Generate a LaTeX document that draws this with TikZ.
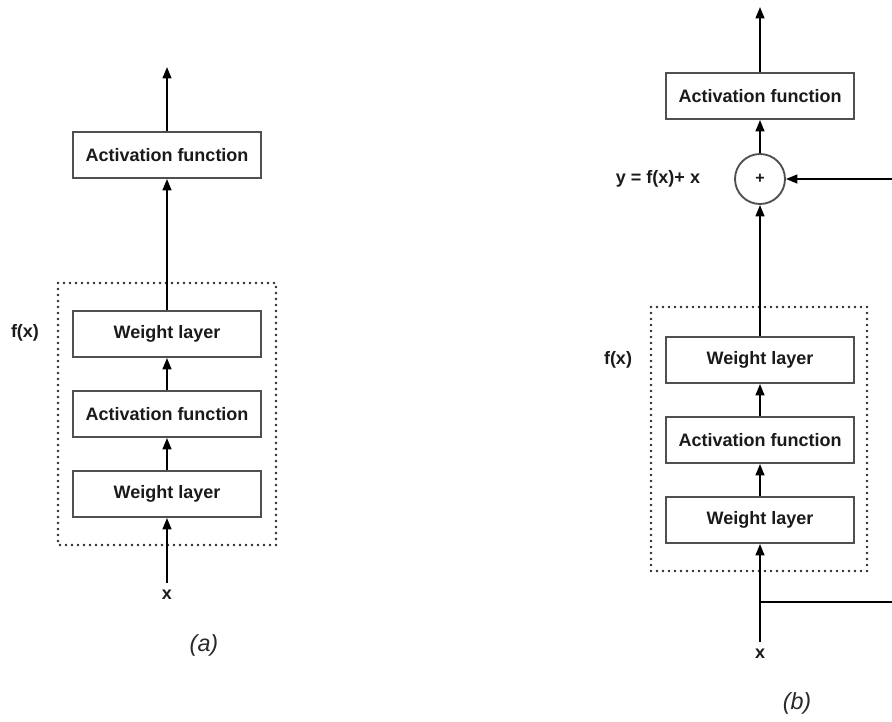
\documentclass[tikz,border=0pt]{standalone}
\usepackage{fontspec}
\setmainfont{Liberation Sans}
\usetikzlibrary{arrows.meta}
\definecolor{ink}{HTML}{1A1A1A}
\definecolor{boxline}{HTML}{505050}
\definecolor{dotline}{HTML}{2A2A2A}
\begin{document}
\begin{tikzpicture}[x=0.75pt,y=-0.75pt,
  every node/.style={text=ink, font=\fontsize{13.5}{16}\selectfont\bfseries},
  layer/.style={draw=boxline, line width=1.4pt, fill=white,
    minimum width=141pt, minimum height=34.5pt, inner sep=0pt},
  sumnode/.style={circle, draw=boxline, line width=1.4pt, fill=white,
    minimum size=37.5pt, inner sep=0pt, font=\fontsize{12}{14}\selectfont\bfseries},
  group/.style={draw=dotline, line width=2pt, line cap=round,
    dash pattern=on 0pt off 4.5pt},
  flow/.style={draw=black, line width=1.5pt,
    -{Triangle[length=8.5pt,width=6.5pt]}},
  inlabel/.style={inner ysep=5.5pt, inner xsep=2pt},
  caption/.style={font=\fontsize{17.5}{20}\selectfont\itshape, text=dotline}]

\clip (0,0) rectangle (892,721);
\fill[white] (0,0) rectangle (892,721);

% ---------------- (a) plain block ----------------
\draw[group] (58,283) rectangle (276,545);
\node[layer] (actA) at (167,155) {Activation function};
\node[layer] (wA2)  at (167,334) {Weight layer};
\node[layer] (actA1) at (167,414) {Activation function};
\node[layer] (wA1)  at (167,494) {Weight layer};
\node[inlabel] (xA) at (167,595) {x};
\coordinate (outA) at (167,67);
\node (fxA) at (25,333) {f(x)};
\node[caption] (capA) at (204,645) {(a)};

\draw[flow] (xA.north) -- (wA1.south);
\draw[flow] (wA1.north) -- (actA1.south);
\draw[flow] (actA1.north) -- (wA2.south);
\draw[flow] (wA2.north) -- (actA.south);
\draw[flow] (actA.north) -- (outA);

% ---------------- (b) residual block ----------------
\draw[group] (651,307) rectangle (867,571);
\node[layer] (actB) at (760,96) {Activation function};
\node[sumnode] (sum) at (760,179) {+};
\node[layer] (wB2)  at (760,360) {Weight layer};
\node[layer] (actB1) at (760,440) {Activation function};
\node[layer] (wB1)  at (760,520) {Weight layer};
\node[inlabel] (xB) at (760,654) {x};
\coordinate (outB) at (760,7);
\coordinate (split) at (760,602);
\coordinate (skip) at (905,602);
\node (eq) at (658,179) {y = f(x)+ x};
\node (fxB) at (618,360) {f(x)};
\node[caption] (capB) at (797,703) {(b)};

\draw[flow] (xB.north) -- (wB1.south);
\draw[flow] (wB1.north) -- (actB1.south);
\draw[flow] (actB1.north) -- (wB2.south);
\draw[flow] (wB2.north) -- (sum.south);
\draw[flow] (sum.north) -- (actB.south);
\draw[flow] (actB.north) -- (outB);
\draw[flow] (split) -- (skip) |- (sum.east);
\end{tikzpicture}
\end{document}
